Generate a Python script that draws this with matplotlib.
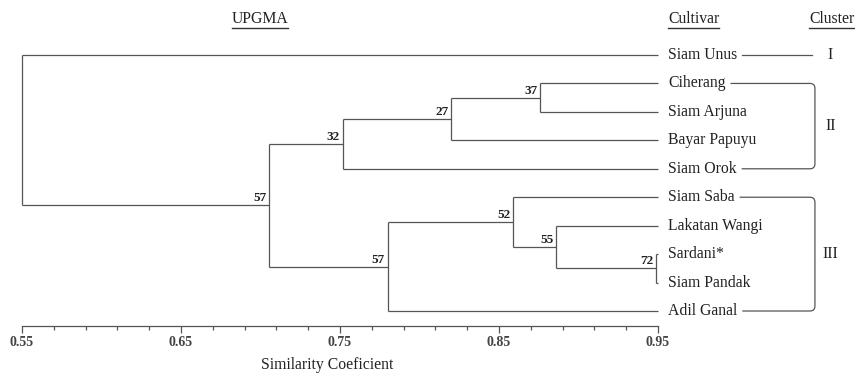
import matplotlib.pyplot as plt
import numpy as np
from matplotlib.path import Path
from matplotlib.patches import PathPatch

plt.rcParams['font.family'] = ['Liberation Serif', 'DejaVu Serif']

# cultivars (leaves, top to bottom)
cultivars = ["Siam Unus", "Ciherang", "Siam Arjuna", "Bayar Papuyu", "Siam Orok",
             "Siam Saba", "Lakatan Wangi", "Sardani*", "Siam Pandak", "Adil Ganal"]

# UPGMA merges: index <10 is a leaf, >=10 is an earlier merge (10 + order)
merge_left = [1, 10, 11, 7, 6, 5, 15, 12, 0]
merge_right = [2, 3, 4, 8, 13, 14, 9, 16, 17]
merge_sim = [0.876, 0.820, 0.752, 0.949, 0.886, 0.859, 0.780, 0.7055, 0.55]
merge_boot = [37, 27, 32, 72, 55, 52, 57, 57, None]
leaf_sim = 0.95

# clusters
cluster_names = ["I", "II", "III"]
cluster_start = [0, 1, 5]
cluster_end = [0, 4, 9]

sim_ticks = [0.55, 0.65, 0.75, 0.85, 0.95]
sim_minor = np.arange(0.55, 0.9501, 0.02)

lc = '#555555'
tc = '#222222'
lw = 0.9

fig = plt.figure(figsize=(8.55, 3.75), dpi=100)
ax = fig.add_axes([0, 0, 1, 1])
ax.set_xlim(0.53616, 1.0739)
ax.set_ylim(11.25, -1.934)

# dendrogram
pos_x = [leaf_sim] * len(cultivars)
pos_y = list(range(len(cultivars)))
for a, b, s, bs in zip(merge_left, merge_right, merge_sim, merge_boot):
    for c in (a, b):
        ax.plot([s, pos_x[c]], [pos_y[c], pos_y[c]], color=lc, lw=lw, solid_capstyle='butt')
    ax.plot([s, s], [pos_y[a], pos_y[b]], color=lc, lw=lw, solid_capstyle='butt')
    y = (pos_y[a] + pos_y[b]) / 2
    pos_x.append(s)
    pos_y.append(y)
    if bs is not None:
        ax.annotate(str(bs), xy=(s, y), xytext=(-3, 1), textcoords='offset pixels',
                    ha='right', va='bottom', fontsize=9.5, fontweight='bold', color=tc)

# leaf labels
label_x = leaf_sim + 0.0063
leaf_texts = []
for i, name in enumerate(cultivars):
    leaf_texts.append(ax.text(label_x, i, name, ha='left', va='center', fontsize=11.3, color=tc))

# headers
hy = -1.25
headers = [ax.text(0.6997, hy, "UPGMA", ha='center', va='center', fontsize=11.3, color=tc),
           ax.text(label_x, hy, "Cultivar", ha='left', va='center', fontsize=11.3, color=tc),
           ax.text(1.045, hy, "Cluster", ha='left', va='center', fontsize=11.3, color=tc)]

# x axis
for side in ['top', 'left', 'right']:
    ax.spines[side].set_visible(False)
ax.spines['bottom'].set_position(('data', 9.53))
ax.spines['bottom'].set_bounds(0.55, 0.95)
ax.spines['bottom'].set_color(lc)
ax.spines['bottom'].set_linewidth(lw)
ax.set_xticks(sim_ticks)
ax.set_xticks(sim_minor, minor=True)
ax.set_xticklabels([f"{t:.2f}" for t in sim_ticks], fontsize=10, fontweight='bold', color='#444444')
ax.tick_params(axis='x', which='major', direction='out', length=5, width=lw, color=lc, pad=2)
ax.tick_params(axis='x', which='minor', direction='out', length=3, width=lw, color=lc)
ax.set_yticks([])
ax.set_xlabel("Similarity Coeficient", fontsize=11.3, color=tc)
ax.xaxis.set_label_coords(0.3825, 0.047)
ax.xaxis.label.set_va('top')

fig.canvas.draw()
inv = ax.transData.inverted()

# underlines for headers
for t in headers:
    bb = t.get_window_extent()
    (x0, y0), (x1, _) = inv.transform([(bb.x0, bb.y0 - 1), (bb.x1, bb.y0 - 1)])
    ax.plot([x0, x1], [y0, y0], color='#333333', lw=1.0)

# cluster brackets
bx = 1.0487
rx = 5 / 1590
ry = 5 / 28.44
for name, s, e in zip(cluster_names, cluster_start, cluster_end):
    xs = inv.transform((leaf_texts[s].get_window_extent().x1 + 5, 0))[0]
    if s == e:
        ax.plot([xs, bx - 0.002], [s, s], color=lc, lw=lw)
        ax.text(1.0585, s, name, ha='center', va='center', fontsize=11.3, color=tc)
        continue
    xe = inv.transform((leaf_texts[e].get_window_extent().x1 + 5, 0))[0]
    verts = [(xs, s), (bx - rx, s), (bx, s), (bx, s + ry), (bx, e - ry), (bx, e), (bx - rx, e), (xe, e)]
    codes = [Path.MOVETO, Path.LINETO, Path.CURVE3, Path.CURVE3, Path.LINETO,
             Path.CURVE3, Path.CURVE3, Path.LINETO]
    ax.add_patch(PathPatch(Path(verts, codes), fill=False, edgecolor=lc, lw=lw))
    ax.text(1.0585, (s + e) / 2, name, ha='center', va='center', fontsize=11.3, color=tc)

fig.savefig('out.png', dpi=100)
